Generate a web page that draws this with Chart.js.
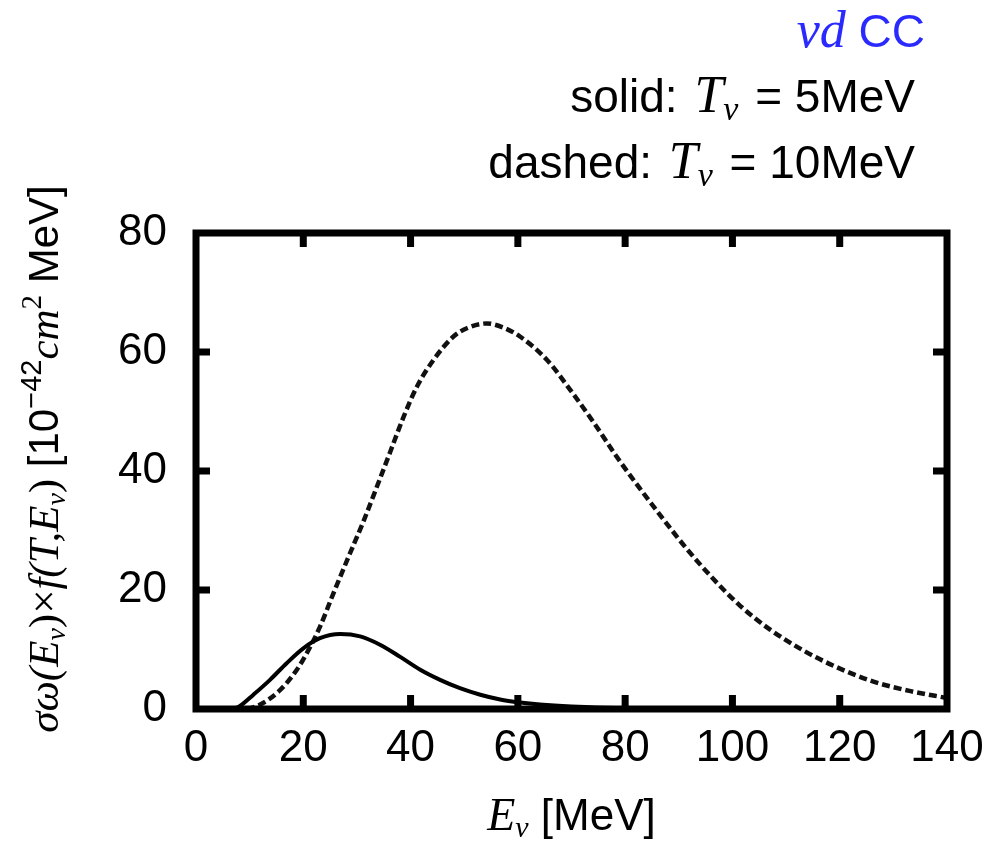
<!DOCTYPE html>
<html>
<head>
<meta charset="utf-8">
<script src="https://cdn.jsdelivr.net/npm/chart.js@4.4.1/dist/chart.umd.min.js"></script>
<style>
html,body{margin:0;padding:0;background:#fff;}
#wrap{width:997px;height:842px;}
</style>
</head>
<body>
<div id="wrap"><canvas id="c" width="997" height="842"></canvas></div>
<script>
// ---- data ----
const solidE  = [7, 8.2, 10.7, 13.8, 16.9, 20.0, 23.1, 26.9, 30.6, 34.3, 38.0, 41.8, 45.5, 49.2, 53.0, 56.7, 60.4, 64.1, 70, 76, 85, 100, 140];
const solidY  = [0, 0.5, 2.4, 4.9, 7.7, 10.2, 11.9, 12.6, 12.2, 10.8, 8.8, 6.6, 4.9, 3.5, 2.4, 1.6, 1.1, 0.75, 0.4, 0.2, 0.05, 0, 0];
const dashedE = [9.5, 11.9, 15.7, 18.8, 20.9, 23.1, 25.6, 28.4, 31.2, 33.7, 36.2, 38.7, 41.2, 44.3, 48.0, 50.5, 54.2, 57.3, 60.4, 65.4, 69.8, 74.1, 78.5, 82.8, 87.2, 91.5, 96.5, 101.5, 107.1, 113.3, 119.5, 126.3, 133.2, 140];
const dashedY = [0, 0.7, 3.2, 6.6, 9.8, 13.8, 19.4, 25.5, 31.5, 37.3, 43.2, 49.1, 54.2, 58.7, 62.6, 64.0, 64.8, 64.1, 62.6, 58.7, 53.6, 48.2, 42.3, 37.0, 31.8, 26.9, 21.8, 17.3, 13.3, 9.8, 7.0, 4.6, 3.0, 1.85];
const xTicks = [0, 20, 40, 60, 80, 100, 120, 140];
const yTicks = [0, 20, 40, 60, 80];

const SANS = '"Liberation Sans", Arial, sans-serif';
const SERIF = '"Liberation Serif", "Times New Roman", serif';

function drawRich(ctx, segs, x, y, align) {
  let w = 0;
  segs.forEach(s => { ctx.font = s.f; s.w = ctx.measureText(s.t).width; w += s.w + (s.dx || 0); });
  let cx = align === 'right' ? x - w : (align === 'center' ? x - w / 2 : x);
  segs.forEach(s => {
    ctx.font = s.f; ctx.fillStyle = s.c || '#000';
    cx += (s.dx || 0);
    ctx.fillText(s.t, cx, y + (s.dy || 0));
    cx += s.w;
  });
}

const decor = {
  id: 'decor',
  afterDraw(chart) {
    const ctx = chart.ctx, a = chart.chartArea;
    const xs = chart.scales.x, ys = chart.scales.y;
    ctx.save();
    // frame
    ctx.strokeStyle = '#000'; ctx.lineWidth = 7; ctx.lineJoin = 'miter';
    ctx.strokeRect(a.left, a.top, a.right - a.left, a.bottom - a.top);
    // inward ticks
    ctx.fillStyle = '#000';
    const tw = 7, tl = 14;
    xTicks.forEach(v => {
      const p = xs.getPixelForValue(v);
      if (v === xs.min || v === xs.max) return;
      ctx.fillRect(p - tw / 2, a.bottom - tl, tw, tl);
      ctx.fillRect(p - tw / 2, a.top, tw, tl);
    });
    yTicks.forEach(v => {
      const p = ys.getPixelForValue(v);
      if (v === ys.min || v === ys.max) return;
      ctx.fillRect(a.left, p - tw / 2, tl, tw);
      ctx.fillRect(a.right - tl, p - tw / 2, tl, tw);
    });
    // titles
    ctx.textBaseline = 'alphabetic';
    const blue = '#2a2aff';
    drawRich(ctx, [
      {t: 'ν', f: 'italic 52px ' + SERIF, c: blue},
      {t: 'd', f: 'italic 52px ' + SERIF, c: blue},
      {t: ' CC', f: '46px ' + SANS, c: blue}
    ], 925, 47, 'right');
    drawRich(ctx, [
      {t: 'solid: ', f: '46px ' + SANS},
      {t: 'T', f: 'italic 52px ' + SERIF, dx: 4},
      {t: 'ν', f: 'italic 34px ' + SERIF, dy: 8},
      {t: ' = 5MeV', f: '46px ' + SANS, dx: 4}
    ], 915, 112, 'right');
    drawRich(ctx, [
      {t: 'dashed: ', f: '46px ' + SANS},
      {t: 'T', f: 'italic 52px ' + SERIF, dx: 4},
      {t: 'ν', f: 'italic 34px ' + SERIF, dy: 8},
      {t: ' = 10MeV', f: '46px ' + SANS, dx: 4}
    ], 915, 178, 'right');
    // x title
    drawRich(ctx, [
      {t: 'E', f: 'italic 46px ' + SERIF},
      {t: 'ν', f: 'italic 30px ' + SERIF, dy: 7},
      {t: ' [MeV]', f: '44px ' + SANS}
    ], (a.left + a.right) / 2, 830, 'center');
    // y title
    ctx.translate(58, 459);
    ctx.rotate(-Math.PI / 2);
    drawRich(ctx, [
      {t: 'σω(E', f: 'italic 43px ' + SERIF},
      {t: 'ν', f: 'italic 28px ' + SERIF, dy: 7},
      {t: ')×', f: '43px ' + SERIF},
      {t: 'f(T,E', f: 'italic 43px ' + SERIF},
      {t: 'ν', f: 'italic 28px ' + SERIF, dy: 7},
      {t: ')', f: '43px ' + SERIF},
      {t: ' [10', f: '42px ' + SANS},
      {t: '−42', f: '29px ' + SANS, dy: -17},
      {t: 'cm', f: 'italic 43px ' + SERIF},
      {t: '2', f: '29px ' + SERIF, dy: -17},
      {t: ' MeV]', f: '42px ' + SANS}
    ], 0, 0, 'center');
    ctx.restore();
  }
};

new Chart(document.getElementById('c'), {
  type: 'line',
  data: {
    datasets: [
      {
        label: 'solid: T=5MeV',
        data: solidE.map((e, i) => ({x: e, y: solidY[i]})),
        borderColor: '#000', borderWidth: 4, pointRadius: 0,
        cubicInterpolationMode: 'monotone', fill: false
      },
      {
        label: 'dashed: T=10MeV',
        data: dashedE.map((e, i) => ({x: e, y: dashedY[i]})),
        borderColor: '#111', borderWidth: 4.5, borderDash: [8, 4], pointRadius: 0,
        cubicInterpolationMode: 'monotone', fill: false
      }
    ]
  },
  options: {
    responsive: false, animation: false, devicePixelRatio: 1,
    layout: {padding: {left: 0, right: 50, top: 233, bottom: 73}},
    plugins: {legend: {display: false}, tooltip: {enabled: false}},
    scales: {
      x: {
        type: 'linear', min: 0, max: 140,
        afterFit: s => { s.height = 60; },
        afterBuildTicks: s => { s.ticks = xTicks.map(v => ({value: v})); },
        grid: {display: false, drawTicks: false}, border: {display: false},
        ticks: {font: {family: SANS, size: 44}, color: '#000', padding: 13, maxRotation: 0, autoSkip: false}
      },
      y: {
        type: 'linear', min: 0, max: 80,
        afterFit: s => { s.width = 196; },
        afterBuildTicks: s => { s.ticks = yTicks.map(v => ({value: v})); },
        grid: {display: false, drawTicks: false}, border: {display: false},
        ticks: {font: {family: SANS, size: 44}, color: '#000', padding: 29, autoSkip: false}
      }
    }
  },
  plugins: [decor]
});
</script>
</body>
</html>
